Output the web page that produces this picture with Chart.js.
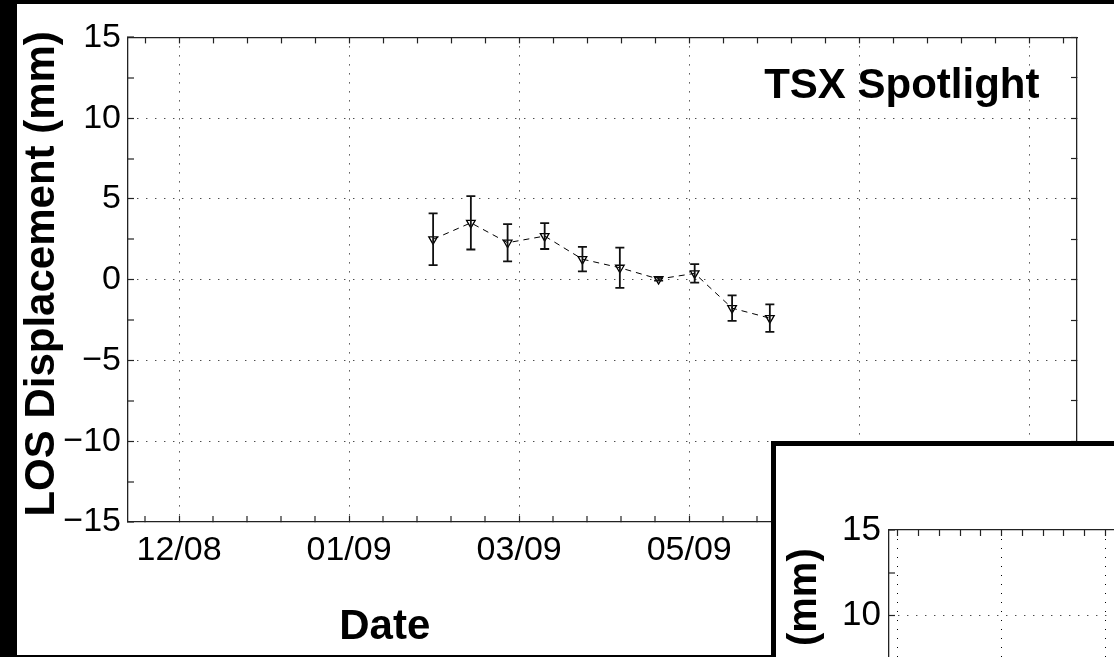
<!DOCTYPE html>
<html>
<head>
<meta charset="utf-8">
<title>TSX Spotlight LOS displacement</title>
<script src="https://cdn.jsdelivr.net/npm/chart.js@4.4.0/dist/chart.umd.min.js"></script>
<style>
  html, body { margin: 0; padding: 0; width: 1114px; height: 657px; overflow: hidden; background: #000; }
  #main { position: absolute; left: 17px; top: 4px; width: 1097px; height: 651px; background: #fff; }
  #inset { position: absolute; left: 771px; top: 441px; width: 343px; height: 216px; box-sizing: border-box;
           border-left: 5px solid #000; border-top: 5px solid #000; background: #fff; overflow: hidden; }
  #insetChart { position: absolute; left: 0; top: 0; }
</style>
</head>
<body>
<div id="main"><canvas id="losChart" width="1097" height="651"></canvas></div>
<div id="inset"><canvas id="insetChart" width="700" height="700"></canvas></div>
<script>
// acquisition dates, in days after the 12/08 tick
const dates = [74.7, 85.8, 96.6, 107.5, 118.6, 129.6, 141.0, 151.6, 162.6, 173.7];
// LOS displacement (mm) and error bar half-length (mm)
const losMm = [2.5, 3.52, 2.29, 2.7, 1.27, 0.74, 0.04, 0.39, -1.76, -2.38];
const errMm = [1.6, 1.65, 1.15, 0.8, 0.76, 1.25, 0.1, 0.57, 0.79, 0.85];

const xTickDays = [0, 50, 100, 150, 200, 250];
const xTickLabels = ["12/08", "01/09", "03/09", "05/09", "06/09", "08/09"];
const yTickValues = [-15, -10, -5, 0, 5, 10, 15];
const yTickLabels = ["\u221215", "\u221210", "\u22125", "0", "5", "10", "15"];

const fontFamily = '"Liberation Sans", Arial, Helvetica, sans-serif';
const axisColor = "#222";

function xLabel(v) {
  const k = xTickDays.indexOf(v);
  return k >= 0 ? xTickLabels[k] : "";
}
function yLabel(v) {
  const k = yTickValues.indexOf(v);
  return k >= 0 ? yTickLabels[k] : "";
}
// dotted grid only on the labelled ticks
function xGridWidth(c) {
  return xTickDays.indexOf(c.tick.value) >= 0 ? 1 : 0;
}
function yGridWidth(c) {
  const v = c.tick.value;
  return (v % 5 === 0 && Math.abs(v) < 15) ? 1 : 0;
}

function axisPair(o) {
  // bottom/left axes with labels, top/right mirrored tick marks only
  return {
    x: {
      type: "linear", position: "bottom", min: o.xMin, max: o.xMax,
      afterFit: s => { s.height = o.xHeight; },
      ticks: { stepSize: 10, includeBounds: false, autoSkip: false, maxRotation: 0, padding: o.xPad,
               color: "#000", font: { family: fontFamily, size: o.tickSize }, callback: xLabel },
      grid: { lineWidth: xGridWidth, color: "#000", tickLength: -6, tickColor: axisColor, tickWidth: 1.2 },
      border: { color: axisColor, width: 1.3, dash: [1, 8] }
    },
    x2: {
      type: "linear", position: "top", min: o.xMin, max: o.xMax,
      afterFit: s => { s.height = 0; },
      ticks: { stepSize: 10, includeBounds: false, display: false },
      grid: { drawOnChartArea: false, tickLength: -6, tickColor: axisColor, tickWidth: 1.2 },
      border: { color: axisColor, width: 1.3 }
    },
    y: {
      type: "linear", position: "left", min: -15, max: 15,
      afterFit: s => { s.width = o.yWidth; },
      ticks: { stepSize: 2.5, autoSkip: false, padding: o.yPad, color: "#000",
               font: { family: fontFamily, size: o.tickSize }, callback: yLabel },
      grid: { lineWidth: yGridWidth, color: "#000", tickLength: -6, tickColor: axisColor, tickWidth: 1.2 },
      border: { color: axisColor, width: 1.3, dash: [1, 8] },
      // leading space nudges the title up a little, as in the original
      title: { display: true, text: " LOS Displacement (mm)", color: "#000", padding: { top: o.titlePad, bottom: 0 },
               font: { family: fontFamily, size: o.titleSize, weight: "bold" } }
    },
    y2: {
      type: "linear", position: "right", min: -15, max: 15,
      afterFit: s => { s.width = 0; },
      ticks: { stepSize: 2.5, display: false },
      grid: { drawOnChartArea: false, tickLength: -6, tickColor: axisColor, tickWidth: 1.2 },
      border: { color: axisColor, width: 1.3 }
    }
  };
}

// plot annotations placed through the scales
const textLabels = {
  id: "textLabels",
  afterDraw(chart) {
    const { ctx, scales: { x, y }, chartArea } = chart;
    ctx.save();
    ctx.fillStyle = "#000";
    ctx.font = "bold 42px " + fontFamily;
    ctx.textAlign = "center";
    ctx.textBaseline = "alphabetic";
    ctx.fillText("TSX Spotlight", x.getPixelForValue(212.5), y.getPixelForValue(11.25));
    ctx.fillText("Date", x.getPixelForValue(60.5), chartArea.bottom + 117);
    ctx.restore();
  }
};

const errorBars = dates.map((d, i) => ({
  data: [{ x: d, y: losMm[i] - errMm[i] }, { x: d, y: losMm[i] + errMm[i] }],
  borderColor: "#111",
  borderWidth: 1.8,
  pointStyle: "line",
  pointRadius: 4.5,
  pointBorderWidth: 1.8,
  pointBorderColor: "#111"
}));

const series = {
  data: dates.map((d, i) => ({ x: d, y: losMm[i] })),
  borderColor: "#000",
  borderWidth: 1,
  borderDash: [6, 5],
  tension: 0,
  pointStyle: "triangle",
  rotation: 180,
  pointRadius: 5,
  pointBorderWidth: 1.3,
  pointBorderColor: "#000",
  pointBackgroundColor: "rgba(0,0,0,0)"
};

new Chart(document.getElementById("losChart"), {
  type: "line",
  data: { datasets: [...errorBars, series] },
  options: {
    responsive: false,
    animation: false,
    events: [],
    layout: { padding: { left: 0, top: 30, right: 37, bottom: 0 } },
    plugins: { legend: { display: false }, tooltip: { enabled: false } },
    scales: axisPair({ xMin: -15, xMax: 264, xHeight: 133, yWidth: 111, xPad: 14, yPad: 13,
                       tickSize: 34, titleSize: 42, titlePad: 0 })
  },
  plugins: [textLabels]
});

// the second figure that is pasted over the lower right corner
new Chart(document.getElementById("insetChart"), {
  type: "line",
  data: { datasets: [] },
  options: {
    responsive: false,
    animation: false,
    events: [],
    layout: { padding: { left: 0, top: 84, right: 10, bottom: 0 } },
    plugins: { legend: { display: false }, tooltip: { enabled: false } },
    scales: axisPair({ xMin: -4.2, xMax: 258, xHeight: 106, yWidth: 113, xPad: 14, yPad: 14,
                       tickSize: 35, titleSize: 40, titlePad: 5 })
  }
});
</script>
</body>
</html>
